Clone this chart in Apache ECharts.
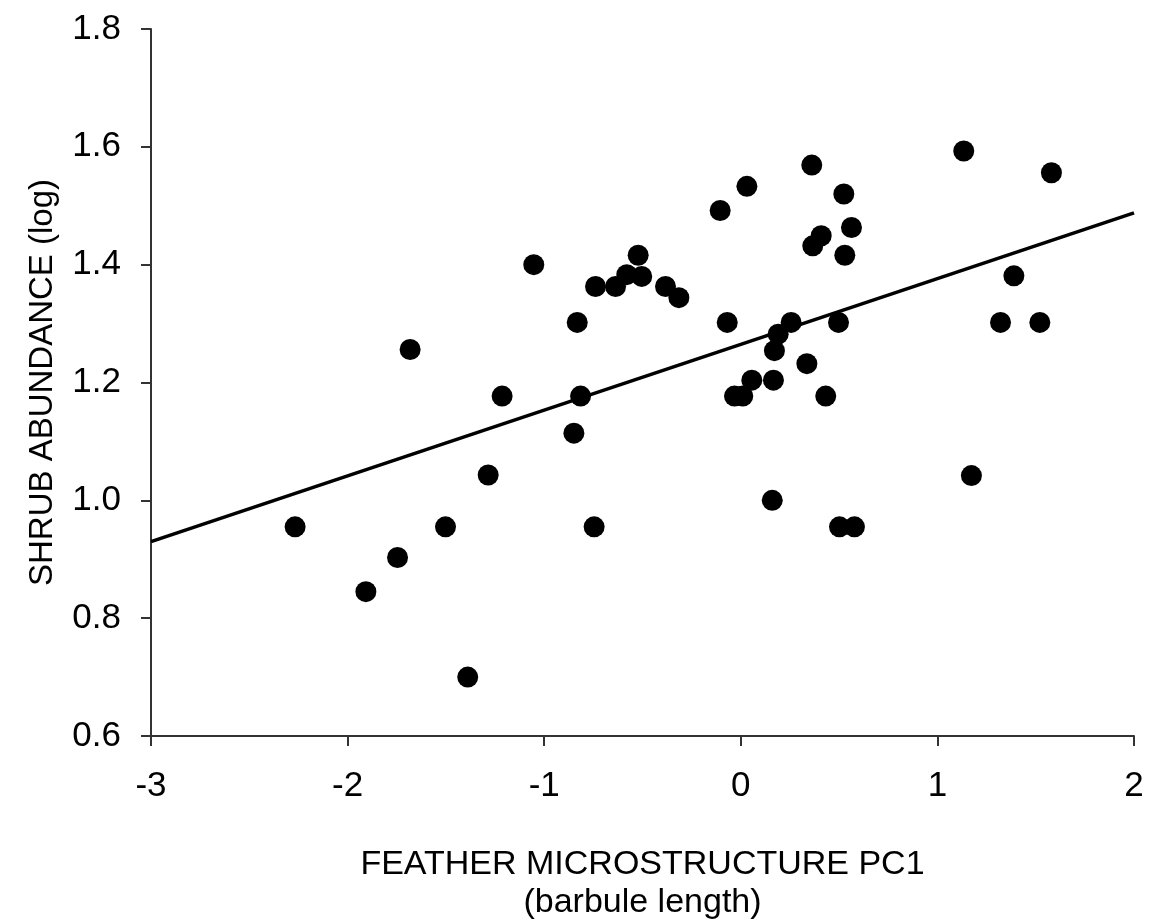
<!DOCTYPE html>
<html>
<head>
<meta charset="utf-8">
<script src="https://cdn.jsdelivr.net/npm/echarts@6/dist/echarts.min.js"></script>
<style>
  html, body { margin: 0; padding: 0; background: #fff; }
  #chart { width: 1162px; height: 920px; }
</style>
</head>
<body>
<div id="chart"></div>
<script>
// 散点数据 (PC1, log abundance)
var pc1 = [
  -2.267, -1.907, -1.746, -1.682, -1.502, -1.389, -1.285, -1.214, -1.053, -0.849,
  -0.832, -0.815, -0.746, -0.739, -0.637, -0.580, -0.522, -0.504, -0.383, -0.315,
  -0.105, -0.069, -0.032, 0.010, 0.031, 0.056, 0.160, 0.166, 0.171, 0.190,
  0.256, 0.336, 0.361, 0.366, 0.409, 0.432, 0.497, 0.502, 0.524, 0.529,
  0.563, 0.578, 1.134, 1.173, 1.321, 1.389, 1.521, 1.580
];
var shrub = [
  0.955, 0.845, 0.903, 1.256, 0.955, 0.700, 1.043, 1.177, 1.400, 1.114,
  1.302, 1.177, 0.955, 1.363, 1.363, 1.383, 1.416, 1.380, 1.363, 1.344,
  1.492, 1.302, 1.177, 1.177, 1.533, 1.204, 1.000, 1.204, 1.254, 1.282,
  1.302, 1.232, 1.569, 1.432, 1.449, 1.177, 1.302, 0.955, 1.520, 1.416,
  1.463, 0.955, 1.593, 1.042, 1.302, 1.381, 1.302, 1.556
];
// 回归线端点
var fitX = [-3, 2];
var fitY = [0.930, 1.488];

var xTicks = [-3, -2, -1, 0, 1, 2];
var yTicks = [0.6, 0.8, 1.0, 1.2, 1.4, 1.6, 1.8];

var myChart = echarts.init(document.getElementById('chart'));

var fontFamily = '"Liberation Sans", Arial, sans-serif';

function pairs(xs, ys) {
  return xs.map(function (x, i) { return [x, ys[i]]; });
}

var option = {
  animation: false,
  backgroundColor: '#fff',
  grid: {
    left: 151,
    right: 28,
    top: 29,
    bottom: 184,
    containLabel: false,
    outerBoundsMode: 'none'
  },
  xAxis: {
    type: 'value',
    min: xTicks[0],
    max: xTicks[xTicks.length - 1],
    interval: 1,
    name: 'FEATHER MICROSTRUCTURE PC1\n(barbule length)',
    nameLocation: 'middle',
    nameGap: 110,
    nameTextStyle: {
      color: '#000',
      fontSize: 34,
      lineHeight: 38,
      fontFamily: fontFamily
    },
    axisLine: { onZero: false, lineStyle: { color: '#333', width: 2 } },
    axisTick: { show: true, length: 10, lineStyle: { color: '#333', width: 2 } },
    axisLabel: {
      color: '#000',
      fontSize: 35,
      margin: 33,
      fontFamily: fontFamily
    },
    splitLine: { show: false }
  },
  yAxis: {
    type: 'value',
    min: yTicks[0],
    max: yTicks[yTicks.length - 1],
    interval: 0.2,
    name: 'SHRUB ABUNDANCE (log)',
    nameLocation: 'middle',
    nameGap: 92,
    nameTextStyle: {
      color: '#000',
      fontSize: 33,
      fontFamily: fontFamily
    },
    axisLine: { show: true, onZero: false, lineStyle: { color: '#333', width: 2 } },
    axisTick: { show: true, length: 10, lineStyle: { color: '#333', width: 2 } },
    axisLabel: {
      color: '#000',
      fontSize: 35,
      margin: 30,
      fontFamily: fontFamily,
      formatter: function (v) { return v.toFixed(1); }
    },
    splitLine: { show: false }
  },
  series: [
    {
      type: 'line',
      data: pairs(fitX, fitY),
      symbol: 'none',
      lineStyle: { color: '#000', width: 3.5 },
      z: 1
    },
    {
      type: 'scatter',
      data: pairs(pc1, shrub),
      symbol: 'circle',
      symbolSize: 21,
      itemStyle: { color: '#000', opacity: 1 },
      z: 2
    }
  ]
};

myChart.setOption(option);
</script>
</body>
</html>
